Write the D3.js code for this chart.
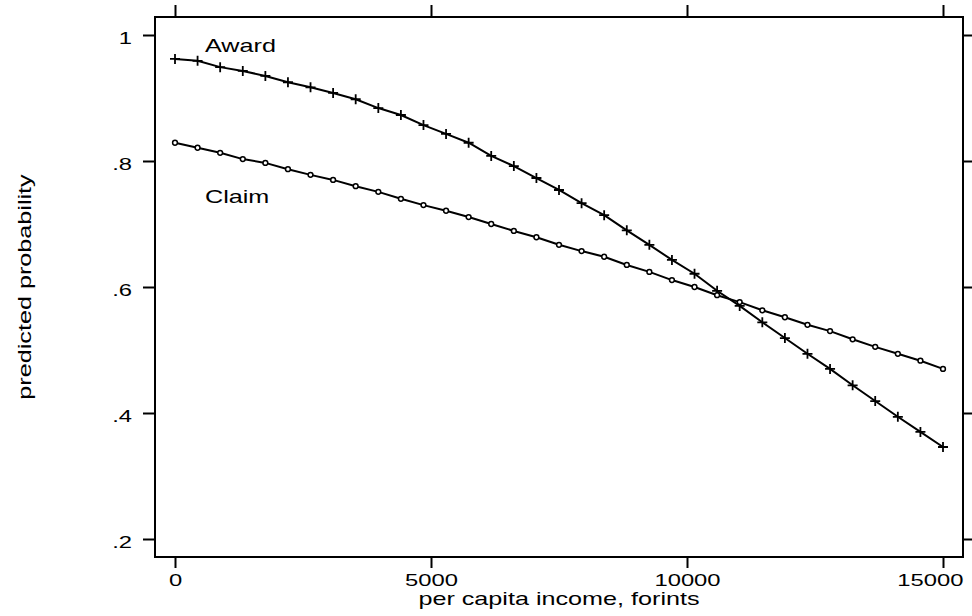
<!DOCTYPE html>
<html>
<head>
<meta charset="utf-8">
<script src="https://cdn.jsdelivr.net/npm/d3@7/dist/d3.min.js"></script>
<style>
  html, body { margin: 0; padding: 0; background: #fff; }
  svg { display: block; }
  text { font-family: "Liberation Sans", Arial, Helvetica, sans-serif; fill: #000; }
</style>
</head>
<body>
<svg id="chart" width="972" height="616"></svg>
<script>
// Per capita income (forints) at which the predictions were evaluated
const income = [0, 441, 882, 1324, 1765, 2206, 2647, 3088, 3529, 3971, 4412, 4853,
  5294, 5735, 6176, 6618, 7059, 7500, 7941, 8382, 8824, 9265, 9706, 10147, 10588,
  11029, 11471, 11912, 12353, 12794, 13235, 13676, 14118, 14559, 15000];

// Predicted probability of an award
const award = [0.962, 0.959, 0.949, 0.943, 0.935, 0.925, 0.917, 0.908, 0.898, 0.884,
  0.873, 0.857, 0.843, 0.829, 0.808, 0.792, 0.773, 0.754, 0.733, 0.714, 0.690, 0.667,
  0.643, 0.621, 0.594, 0.570, 0.544, 0.519, 0.494, 0.470, 0.444, 0.419, 0.394, 0.370, 0.346];

// Predicted probability of a claim
const claim = [0.829, 0.821, 0.813, 0.803, 0.797, 0.787, 0.778, 0.770, 0.760, 0.751,
  0.740, 0.730, 0.721, 0.711, 0.700, 0.689, 0.679, 0.667, 0.657, 0.648, 0.635, 0.624,
  0.611, 0.600, 0.587, 0.576, 0.563, 0.552, 0.540, 0.530, 0.517, 0.505, 0.494, 0.483, 0.470];

const xTicks = [0, 5000, 10000, 15000];
const xTickLabels = ["0", "5000", "10000", "15000"];
const yTicks = [0.2, 0.4, 0.6, 0.8, 1];
const yTickLabels = [".2", ".4", ".6", ".8", "1"];

const svg = d3.select("#chart");
const frame = { left: 155, right: 963, top: 17, bottom: 557 };
const SX = 1.4; // horizontally widened lettering

const x = d3.scaleLinear().domain([0, 15000]).range([175, 943]);
const y = d3.scaleLinear().domain([0.2, 1]).range([539, 35]);

// Plot frame
svg.append("rect")
  .attr("x", frame.left).attr("y", frame.top)
  .attr("width", frame.right - frame.left).attr("height", frame.bottom - frame.top)
  .attr("fill", "none").attr("stroke", "#000").attr("stroke-width", 2);

function styleAxis(g) {
  g.select(".domain").remove();
  g.selectAll(".tick line").attr("stroke", "#000").attr("stroke-width", 2);
}

// Bottom axis with labels; the last label is kept inside the frame's right edge
const gx = svg.append("g").attr("transform", `translate(0,${frame.bottom})`)
  .call(d3.axisBottom(x).tickValues(xTicks).tickSize(11)
    .tickFormat((d, i) => xTickLabels[i]))
  .call(styleAxis);
gx.selectAll(".tick text")
  .attr("y", 29).attr("dy", null)
  .attr("font-size", 17).attr("font-family", null)
  .attr("transform", `scale(${SX},1)`)
  .each(function (d) {
    if (d === xTicks[xTicks.length - 1]) {
      d3.select(this).attr("text-anchor", "end")
        .attr("x", (frame.right - x(d)) / SX);
    }
  });

// Top axis, ticks only
svg.append("g").attr("transform", `translate(0,${frame.top})`)
  .call(d3.axisTop(x).tickValues(xTicks).tickSize(12).tickFormat(""))
  .call(styleAxis);

// Left axis with labels
const gy = svg.append("g").attr("transform", `translate(${frame.left},0)`)
  .call(d3.axisLeft(y).tickValues(yTicks).tickSize(12)
    .tickFormat((d, i) => yTickLabels[i]))
  .call(styleAxis);
gy.selectAll(".tick text")
  .attr("x", -23 / SX).attr("dy", "0.5em")
  .attr("font-size", 17).attr("font-family", null)
  .attr("transform", `scale(${SX},1)`);

// Right axis, ticks only
svg.append("g").attr("transform", `translate(${frame.right},0)`)
  .call(d3.axisRight(y).tickValues(yTicks).tickSize(12).tickFormat(""))
  .call(styleAxis);

// Axis titles
svg.append("text")
  .attr("transform", `translate(${(frame.left + frame.right) / 2},605) scale(${SX},1)`)
  .attr("text-anchor", "middle").attr("font-size", 18)
  .text("per capita income, forints");

svg.append("text")
  .attr("transform", `translate(31,${(frame.top + frame.bottom) / 2}) rotate(-90) scale(${SX},1)`)
  .attr("text-anchor", "middle").attr("font-size", 18)
  .text("predicted probability");

// Series lines
const line = d3.line().x((d, i) => x(income[i])).y(d => y(d));

svg.append("path").datum(award)
  .attr("d", line).attr("fill", "none")
  .attr("stroke", "#000").attr("stroke-width", 2).attr("stroke-linejoin", "round");

svg.append("path").datum(claim)
  .attr("d", line).attr("fill", "none")
  .attr("stroke", "#000").attr("stroke-width", 2).attr("stroke-linejoin", "round");

// Award markers: plus signs
const arm = 5;
svg.append("g").selectAll("path").data(award).join("path")
  .attr("d", (d, i) => {
    const cx = x(income[i]), cy = y(d);
    return `M${cx - arm},${cy}H${cx + arm}M${cx},${cy - arm}V${cy + arm}`;
  })
  .attr("stroke", "#000").attr("stroke-width", 1.8).attr("fill", "none");

// Claim markers: small open circles
svg.append("g").selectAll("circle").data(claim).join("circle")
  .attr("cx", (d, i) => x(income[i]))
  .attr("cy", d => y(d))
  .attr("r", 2.4)
  .attr("fill", "#fff").attr("stroke", "#000").attr("stroke-width", 1.5);

// Series labels
svg.append("text")
  .attr("transform", `translate(205,52) scale(${SX},1)`)
  .attr("font-size", 18).text("Award");

svg.append("text")
  .attr("transform", `translate(205,203) scale(${SX},1)`)
  .attr("font-size", 18).text("Claim");
</script>
</body>
</html>
